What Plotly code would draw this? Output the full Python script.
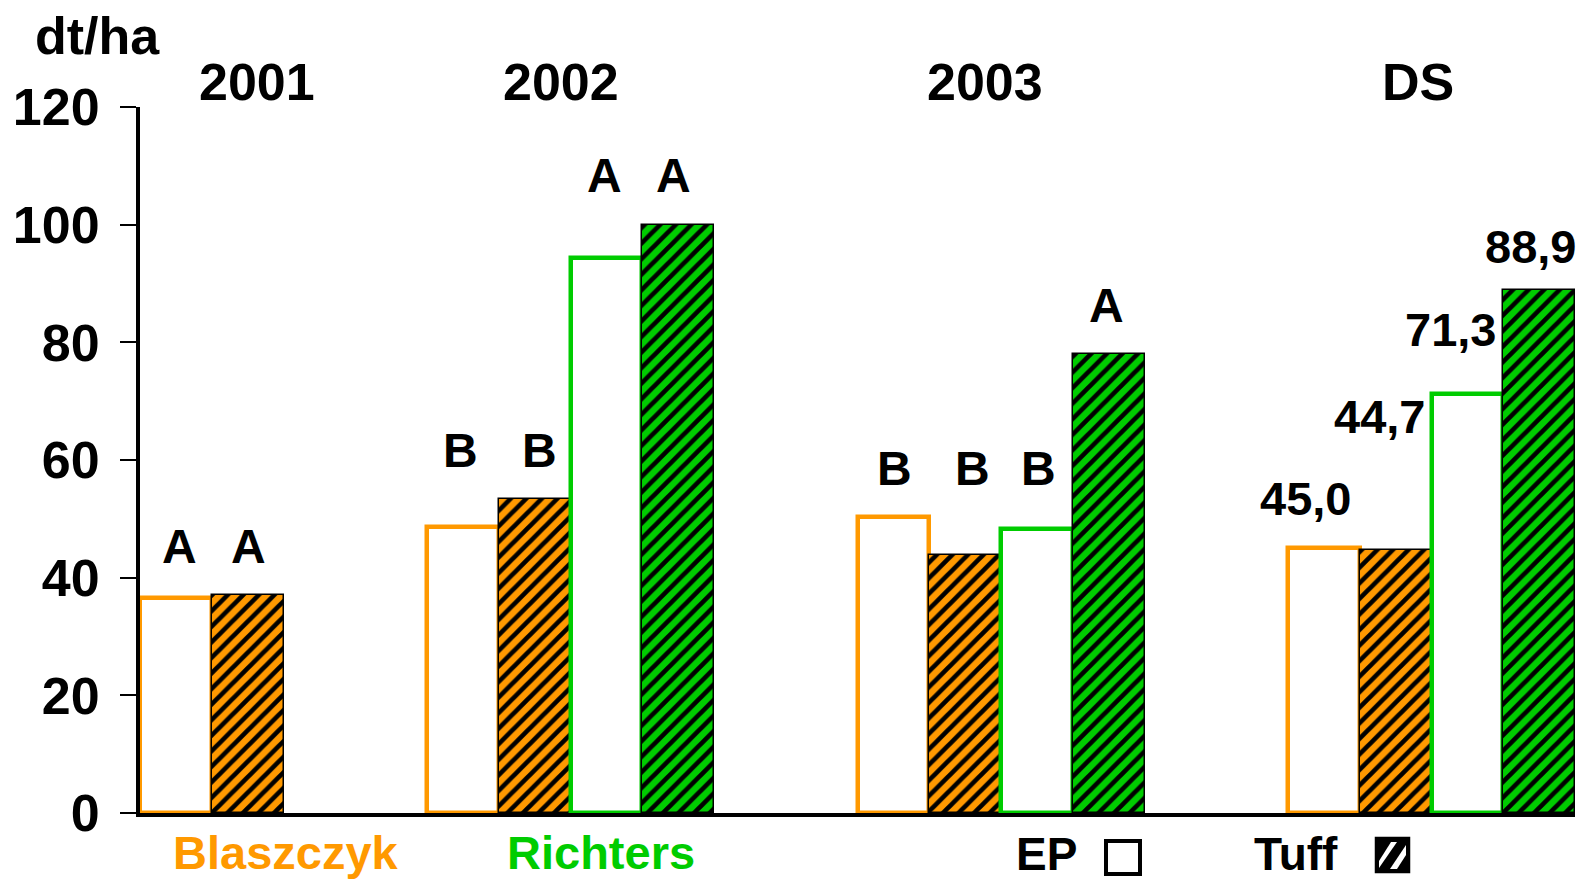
import plotly.graph_objects as go

# ---------------- data ----------------
groups = ["2001", "2002", "2003", "DS"]
blaszczyk_ep = [36.5, 48.6, 50.3, 45.0]
blaszczyk_tuff = [37.0, 53.3, 43.9, 44.7]
richters_ep = [None, 94.4, 48.3, 71.3]
richters_tuff = [None, 100.0, 78.0, 88.9]
# significance letters (per group: Blaszczyk EP, Blaszczyk Tuff, Richters EP, Richters Tuff)
letters = [["A", "A", "", ""],
           ["B", "B", "A", "A"],
           ["B", "B", "B", "A"],
           ["", "", "", ""]]
ds_value_labels = ["45,0", "44,7", "71,3", "88,9"]
y_ticks = [0, 20, 40, 60, 80, 100, 120]

# ---------------- layout constants ----------------
W, H = 1585, 879
ML, MR, MT, MB = 140, 10, 107, 66
PW, PH = W - ML - MR, H - MT - MB
group_start = [0, 4, 10, 16]          # slot index of first bar in each group
year_label_x = [1.63, 5.87, 11.78, 17.81]
letter_xshift = [[4, 1, 0, 0], [-2, 5, -2, -5], [1, 7, 2, -2], [0, 0, 0, 0]]
ds_xshift = [-18, -16, -17, -9]
ds_yshift = [50, 134, 64, 43]
ORANGE = "#FF9900"
GREEN = "#00CC00"
FONT = "Liberation Sans, Arial, sans-serif"


def px(x):
    return (x - ML) / PW


def py(y):
    return (H - MB - y) / PH


fig = go.Figure()

series = [
    ("Blaszczyk EP", blaszczyk_ep, ORANGE, False),
    ("Blaszczyk Tuff", blaszczyk_tuff, ORANGE, True),
    ("Richters EP", richters_ep, GREEN, False),
    ("Richters Tuff", richters_tuff, GREEN, True),
]

for k, (name, vals, col, hatched) in enumerate(series):
    xs, ys = [], []
    for g, v in enumerate(vals):
        if v is None:
            continue
        xs.append(group_start[g] + k + 0.5)
        ys.append(v)
    if hatched:
        marker = dict(color=col,
                      pattern=dict(shape="/", fgcolor="black", bgcolor=col,
                                   size=11, solidity=0.42, fillmode="replace"),
                      line=dict(color="black", width=1.5))
    else:
        marker = dict(color="white", line=dict(color=col, width=4.5))
    fig.add_trace(go.Bar(x=xs, y=ys, width=1.0, marker=marker, name=name,
                         showlegend=False, hoverinfo="x+y"))

annotations = []
bold = lambda s, c="black": dict(family=FONT, size=s, color=c, weight="bold")

# significance letters: letters with same symbol in a group share a level
all_series = [blaszczyk_ep, blaszczyk_tuff, richters_ep, richters_tuff]
for g in range(len(groups)):
    levels = {}
    for k in range(4):
        L = letters[g][k]
        v = all_series[k][g]
        if L and v is not None:
            levels[L] = max(levels.get(L, 0), v)
    for k in range(4):
        L = letters[g][k]
        if not L:
            continue
        annotations.append(dict(x=group_start[g] + k + 0.5, y=levels[L] + 8.3,
                                xref="x", yref="y", text=L, showarrow=False,
                                font=bold(48), xanchor="center", yanchor="middle",
                                xshift=letter_xshift[g][k]))

# DS value labels
ds = groups.index("DS")
for k in range(4):
    annotations.append(dict(x=group_start[ds] + k + 0.5, y=all_series[k][ds],
                            xref="x", yref="y", text=ds_value_labels[k],
                            showarrow=False, font=bold(47),
                            xanchor="center", yanchor="middle",
                            xshift=ds_xshift[k], yshift=ds_yshift[k]))

# year labels
for g, lab in enumerate(groups):
    annotations.append(dict(x=year_label_x[g], y=py(82), xref="x", yref="paper",
                            text=lab, showarrow=False, font=bold(52),
                            xanchor="center", yanchor="middle"))

# unit
annotations.append(dict(x=px(97), y=py(36), xref="paper", yref="paper", text="dt/ha",
                        showarrow=False, font=bold(52), xanchor="center", yanchor="middle"))

# bottom texts
annotations += [
    dict(x=px(286), y=py(852), text="Blaszczyk", font=bold(47, ORANGE)),
    dict(x=px(601), y=py(852), text="Richters", font=bold(47, GREEN)),
    dict(x=px(1046), y=py(854), text="EP", font=bold(46)),
    dict(x=px(1296), y=py(854), text="Tuff", font=bold(46)),
]
for a in annotations[-4:]:
    a.update(xref="paper", yref="paper", showarrow=False, xanchor="center", yanchor="middle")

# legend swatches
shapes = [
    dict(type="rect", xref="paper", yref="paper",
         x0=px(1106), x1=px(1140), y0=py(874), y1=py(841),
         line=dict(color="black", width=4), fillcolor="white"),
    dict(type="rect", xref="paper", yref="paper",
         x0=px(1377), x1=px(1408), y0=py(871), y1=py(839),
         line=dict(color="black", width=4.5), fillcolor="black"),
]


def ppath(pts):
    s = "M " + " L ".join(f"{px(a):.5f},{py(b):.5f}" for a, b in pts) + " Z"
    return s


shapes += [
    dict(type="path", xref="paper", yref="paper",
         path=ppath([(1379, 861), (1379, 868), (1397, 842), (1391, 842)]),
         fillcolor="white", line=dict(width=0)),
    dict(type="path", xref="paper", yref="paper",
         path=ppath([(1390, 869), (1397, 869), (1406, 855), (1406, 845)]),
         fillcolor="white", line=dict(width=0)),
]

fig.update_layout(
    width=W, height=H,
    margin=dict(l=ML, r=MR, t=MT, b=MB),
    paper_bgcolor="white", plot_bgcolor="white",
    barmode="overlay", bargap=0,
    annotations=annotations, shapes=shapes,
    xaxis=dict(range=[0, 20], showgrid=False, zeroline=False, showticklabels=False,
               ticks="", showline=True, linecolor="black", linewidth=4,
               layer="above traces", fixedrange=True),
    yaxis=dict(range=[0, 120], tickvals=y_ticks, showgrid=False, zeroline=False,
               showline=True, linecolor="black", linewidth=4,
               ticks="outside", ticklen=16, tickwidth=2, tickcolor="black",
               tickfont=bold(52), ticklabelstandoff=10,
               layer="below traces", fixedrange=True),
)

fig.write_html("out.html", config={"displayModeBar": False},
               post_script="document.body.style.margin='0px';document.body.style.overflow='hidden';")
